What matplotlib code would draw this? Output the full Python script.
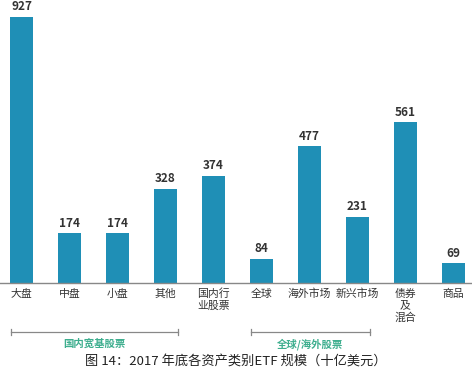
import matplotlib
matplotlib.use('Agg')
import matplotlib.pyplot as plt
import matplotlib.transforms as mtransforms

plt.rcParams['font.family'] = ['Noto Sans CJK SC', 'DejaVu Sans']

categories = ['大盘', '中盘', '小盘', '其他', '国内行\n业股票', '全球', '海外市场', '新兴市场', '债券\n及\n混合', '商品']
values = [927, 174, 174, 328, 374, 84, 477, 231, 561, 69]
groups = [('国内宽基股票', 0, 3), ('全球/海外股票', 5, 7)]
caption = '图 14：2017 年底各资产类别ETF 规模（十亿美元）'

bar_color = '#1f8fb6'
green = '#3dae8e'

fig = plt.figure(figsize=(4.72, 3.75), dpi=100)
ax = fig.add_axes([0, 0.2453, 1, 0.7547])

x = list(range(len(categories)))
ax.bar(x, values, width=0.48, color=bar_color)
for xi, v in zip(x, values):
    ax.text(xi, v + 12, str(v), ha='center', va='bottom', fontsize=8.5,
            fontweight='semibold', color='#333333')

ax.set_xlim(-0.45, 9.39)
ax.set_ylim(0, 986)
for s in ['top', 'left', 'right']:
    ax.spines[s].set_visible(False)
ax.spines['bottom'].set_color('#888888')
ax.spines['bottom'].set_linewidth(1)
ax.set_yticks([])
ax.set_xticks(x)
ax.set_xticklabels(categories, fontsize=7.8, color='#333333', linespacing=1.2)
ax.tick_params(axis='x', length=0, pad=4)

trans = mtransforms.blended_transform_factory(ax.transData, fig.transFigure)
for name, i0, i1 in groups:
    x0, x1 = i0 - 0.22, i1 + 0.26
    yb = 1 - 332 / 375
    ax.plot([x0, x1], [yb, yb], transform=trans, color='#888888', lw=0.9, clip_on=False)
    for xe in (x0, x1):
        ax.plot([xe, xe], [yb - 0.008, yb + 0.008], transform=trans, color='#888888',
                lw=0.9, clip_on=False)
    ax.text((x0 + x1) / 2, 1 - 344 / 375, name, transform=trans, ha='center', va='center',
            fontsize=7.5, fontweight='bold', color=green)

fig.text(0.5, 1 - 362 / 375, caption, ha='center', va='center', fontsize=9.5, color='#222222')

fig.savefig('out.png', dpi=100)
